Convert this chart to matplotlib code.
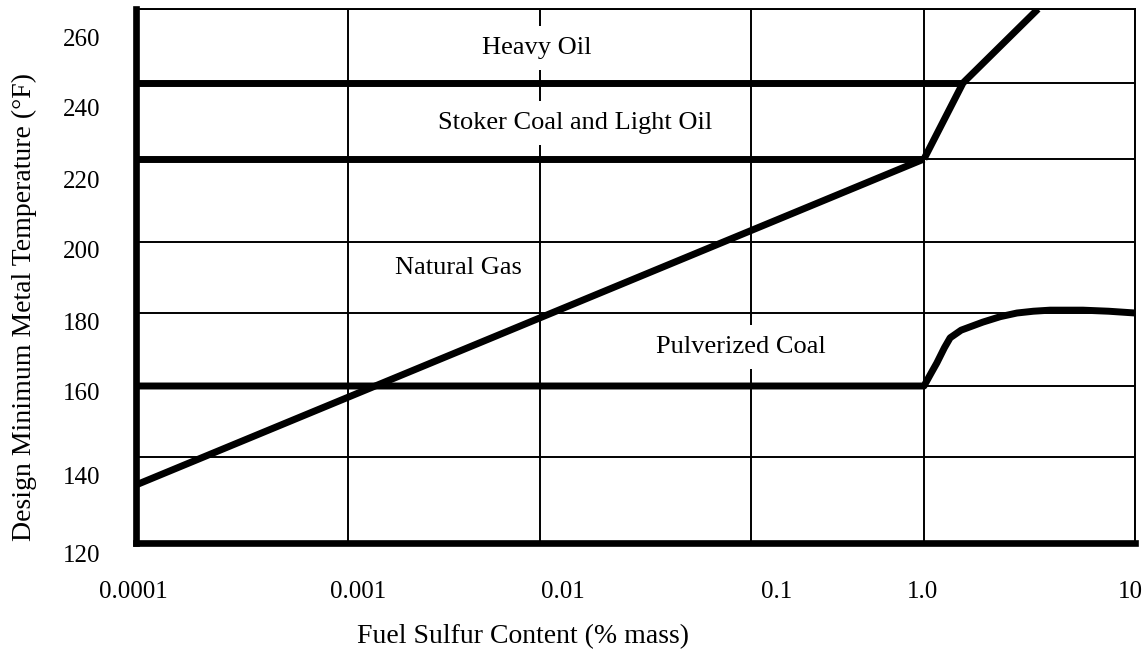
import matplotlib
matplotlib.use("Agg")
import matplotlib.pyplot as plt
import matplotlib.transforms as mtransforms
import numpy as np

plt.rcParams['font.family'] = ['Liberation Serif', 'DejaVu Serif']

# axis ticks (the drawing's grid is not evenly spaced)
x_ticks = [0.0001, 0.001, 0.01, 0.1, 1.0, 10]
x_labels = ['0.0001', '0.001', '0.01', '0.1', '1.0', '10']
y_ticks = [120, 140, 160, 180, 200, 220, 240, 260]

# fuel boundary lines
gas_x = [0.0001, 1.0]
gas_y = [133.5, 220]
heavy_oil_x = [0.0001, 1.53]
heavy_oil_y = [240, 240]
stoker_x = [0.0001, 1.0]
stoker_y = [220, 220]
oil_rise_x = [1.0, 1.53, 3.47]
oil_rise_y = [220, 240, 260]
pc_x = [0.0001, 1.0, 1.08, 1.15, 1.25, 1.33, 1.5, 1.9, 2.3, 2.76, 3.3, 3.96, 5.66, 7.5, 10]
pc_y = [160, 160, 163.5, 166.3, 170.5, 173.2, 175.3, 177.5, 179, 180, 180.5, 180.8, 180.8, 180.5, 180]

# where each decade / grid line sits in the original drawing (pixels)
x_grid_pos = np.array([0, 212, 404, 615, 788, 999], dtype=float)
y_grid_pos = np.array([0, 86, 157, 230, 301, 384, 460, 534], dtype=float)
x_dec = np.log10(x_ticks)


def fx(x):
    x = np.clip(np.asarray(x, dtype=float), 1e-12, None)
    return np.interp(np.log10(x), x_dec, x_grid_pos)


def fx_inv(p):
    return 10 ** np.interp(p, x_grid_pos, x_dec)


def fy(y):
    return np.interp(y, y_ticks, y_grid_pos)


def fy_inv(p):
    return np.interp(p, y_grid_pos, y_ticks)


fig = plt.figure(figsize=(11.48, 6.55), dpi=100)
ax = fig.add_axes([136 / 1148, 112 / 655, 999 / 1148, 534 / 655])
ax.set_xscale('function', functions=(fx, fx_inv))
ax.set_yscale('function', functions=(fy, fy_inv))
ax.set_xlim(0.0001, 10)
ax.set_ylim(120, 260)

ax.set_xticks(x_ticks)
ax.set_xticklabels(x_labels)
ax.set_yticks(y_ticks)
ax.xaxis.set_minor_locator(matplotlib.ticker.NullLocator())
ax.yaxis.set_minor_locator(matplotlib.ticker.NullLocator())
ax.grid(True, color='black', linewidth=1.4)
ax.tick_params(length=0, labelsize=18, colors='black')
ax.tick_params(axis='x', pad=27)
ax.tick_params(axis='y', pad=26)

# nudge tick labels to where they sit in the drawing
x_shift = [-3, 10, 23, 26, -2, -5]
y_shift = [10, 19, 6, 8, 8, 21, 24, 29]
for lab, s in zip(ax.get_xticklabels(), x_shift):
    lab.set_transform(lab.get_transform() + mtransforms.Affine2D().translate(s, 0))
for lab, s in zip(ax.get_yticklabels(), y_shift):
    lab.set_transform(lab.get_transform() + mtransforms.Affine2D().translate(0, -s))

for side in ['top', 'right']:
    ax.spines[side].set_linewidth(1.4)
for side in ['left', 'bottom']:
    ax.spines[side].set_linewidth(4.8)

lw = 5.0
kw = dict(color='black', linewidth=lw, solid_capstyle='butt', solid_joinstyle='round', zorder=4)
ax.plot(heavy_oil_x, heavy_oil_y, **kw)
ax.plot(stoker_x, stoker_y, **kw)
ax.plot(gas_x, gas_y, **kw)
ax.plot(oil_rise_x, oil_rise_y, **kw)
ax.plot(pc_x, pc_y, **kw)

box = dict(facecolor='white', edgecolor='none', pad=8)
tkw = dict(transform=ax.transAxes, fontsize=19, ha='center', va='center', bbox=box, zorder=3)
ax.text(0.401, 0.927, 'Heavy Oil', **tkw)
ax.text(0.440, 0.787, 'Stoker Coal and Light Oil', **tkw)
ax.text(0.323, 0.515, 'Natural Gas', **tkw)
ax.text(0.605, 0.367, 'Pulverized Coal', **tkw)

ax.set_xlabel('Fuel Sulfur Content (% mass)', fontsize=20)
ax.xaxis.set_label_coords(0.387, -0.152)
ax.set_ylabel('Design Minimum Metal Temperature (\u00b0F)', fontsize=20)
ax.yaxis.set_label_coords(-0.099, 0.442)

fig.savefig('out.png', dpi=100)
